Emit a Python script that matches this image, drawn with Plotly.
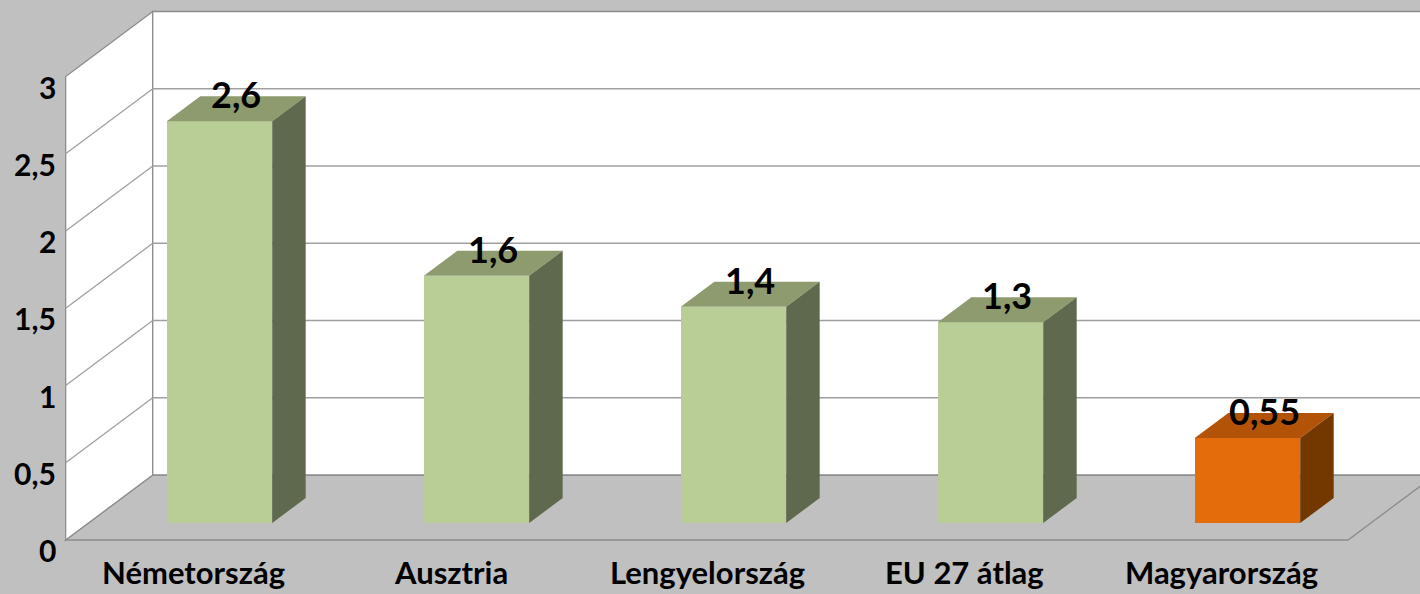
import plotly.graph_objects as go

# ---- data ----
categories = ["Németország", "Ausztria", "Lengyelország", "EU 27 átlag", "Magyarország"]
values = [2.6, 1.6, 1.4, 1.3, 0.55]
value_labels = ["2,6", "1,6", "1,4", "1,3", "0,55"]
tick_values = [0, 0.5, 1, 1.5, 2, 2.5, 3]
tick_labels = ["0", "0,5", "1", "1,5", "2", "2,5", "3"]
highlight = "Magyarország"

# ---- style / geometry ----
W_PX, H_PX = 1420, 594
PX_X = 257.0      # pixels per category step
PX_Y = 154.5      # pixels per value unit
X0_PX = 219.5     # pixel of first category centre (bar plane)
Y0_PX = 523.0     # pixel of value 0 (bar plane)
RATIO = 1.34      # depth dx/dy in pixels
D_FRONT = -17     # front plane depth (px) relative to bar plane
D_BACK = 48       # back wall depth
D_BAR = 25        # bar depth
BAR_W = 0.41
XL, XR = -0.51, 4.48
VMAX = 3

GREEN = dict(front="#B9CD96", top="#8E9B6F", side="#5F694D")
ORANGE = dict(front="#E46C0A", top="#B25308", side="#733700")
BG = "#C0C0C0"
LINE = "#A0A0A0"
FONT = "Lato"


def shift(x, v, d):
    return x + d * RATIO / PX_X, v + d / PX_Y


def path(points):
    return "M " + " L ".join(f"{x:.5f},{y:.5f}" for x, y in points) + " Z"


def line(p, q):
    return "M {:.5f},{:.5f} L {:.5f},{:.5f}".format(p[0], p[1], q[0], q[1])


shapes = []
# floor
shapes.append(dict(type="path", xref="x", yref="y", layer="below",
                   path=path([shift(XL, 0, D_FRONT), shift(XR, 0, D_FRONT),
                              shift(XR, 0, D_BACK), shift(XL, 0, D_BACK)]),
                   fillcolor=BG, line=dict(color="#8C8C8C", width=1.3)))
# left wall
shapes.append(dict(type="path", xref="x", yref="y", layer="below",
                   path=path([shift(XL, 0, D_FRONT), shift(XL, VMAX, D_FRONT),
                              shift(XL, VMAX, D_BACK), shift(XL, 0, D_BACK)]),
                   fillcolor="white", line=dict(color="#8C8C8C", width=1.3)))
# back wall
shapes.append(dict(type="path", xref="x", yref="y", layer="below",
                   path=path([shift(XL, 0, D_BACK), shift(XL, VMAX, D_BACK),
                              shift(XR, VMAX, D_BACK), shift(XR, 0, D_BACK)]),
                   fillcolor="white", line=dict(color="#8C8C8C", width=1.3)))
# gridlines
for v in tick_values[1:-1]:
    shapes.append(dict(type="path", xref="x", yref="y", layer="below",
                       path=line(shift(XL, v, D_FRONT), shift(XL, v, D_BACK)),
                       line=dict(color=LINE, width=1.3)))
    shapes.append(dict(type="path", xref="x", yref="y", layer="below",
                       path=line(shift(XL, v, D_BACK), shift(XR, v, D_BACK)),
                       line=dict(color=LINE, width=1.3)))

fig = go.Figure()
idx = list(range(len(categories)))
pal = [ORANGE if c == highlight else GREEN for c in categories]

fig.add_trace(go.Bar(x=idx, y=values, width=BAR_W,
                     marker=dict(color=[p["front"] for p in pal], line=dict(width=0)),
                     hoverinfo="skip", showlegend=False))

for i, v, p in zip(idx, values, pal):
    x0, x1 = i - BAR_W / 2, i + BAR_W / 2
    top = [(x0, v), (x1, v), shift(x1, v, D_BAR), shift(x0, v, D_BAR), (x0, v)]
    side = [(x1, 0), shift(x1, 0, D_BAR), shift(x1, v, D_BAR), (x1, v), (x1, 0)]
    for pts, col in ((top, p["top"]), (side, p["side"])):
        fig.add_trace(go.Scatter(x=[q[0] for q in pts], y=[q[1] for q in pts],
                                 mode="lines", fill="toself", fillcolor=col,
                                 line=dict(width=0, color=col),
                                 hoverinfo="skip", showlegend=False))

annotations = []
for i, v, t in zip(idx, values, value_labels):
    x, _ = shift(i, v, D_BAR / 2)
    annotations.append(dict(x=x, y=v + 27 / PX_Y, xref="x", yref="y", text=t,
                            showarrow=False, xanchor="center", yanchor="middle",
                            font=dict(family=FONT, size=36, color="black", weight="bold")))
for i, c in zip(idx, categories):
    annotations.append(dict(x=i - 26 / PX_X, y=(Y0_PX - 593) / PX_Y, xref="x", yref="y",
                            text=c, showarrow=False, xanchor="center", yanchor="bottom",
                            font=dict(family=FONT, size=31, color="black", weight="bold")))
for v, t in zip(tick_values, tick_labels):
    annotations.append(dict(x=(58 - X0_PX) / PX_X, y=v - 27 / PX_Y, xref="x", yref="y",
                            text=t, showarrow=False, xanchor="right", yanchor="middle",
                            font=dict(family=FONT, size=30, color="black", weight="bold")))

fig.update_layout(
    width=W_PX, height=H_PX,
    margin=dict(l=0, r=0, t=0, b=0),
    paper_bgcolor=BG, plot_bgcolor=BG,
    shapes=shapes, annotations=annotations,
    xaxis=dict(range=[-X0_PX / PX_X, (W_PX - X0_PX) / PX_X], visible=False, fixedrange=True),
    yaxis=dict(range=[-(H_PX - Y0_PX) / PX_Y, Y0_PX / PX_Y], visible=False, fixedrange=True),
    bargap=0,
)

fig.write_html("out.html", config={"displayModeBar": False},
               post_script="document.body.style.margin='0';")
